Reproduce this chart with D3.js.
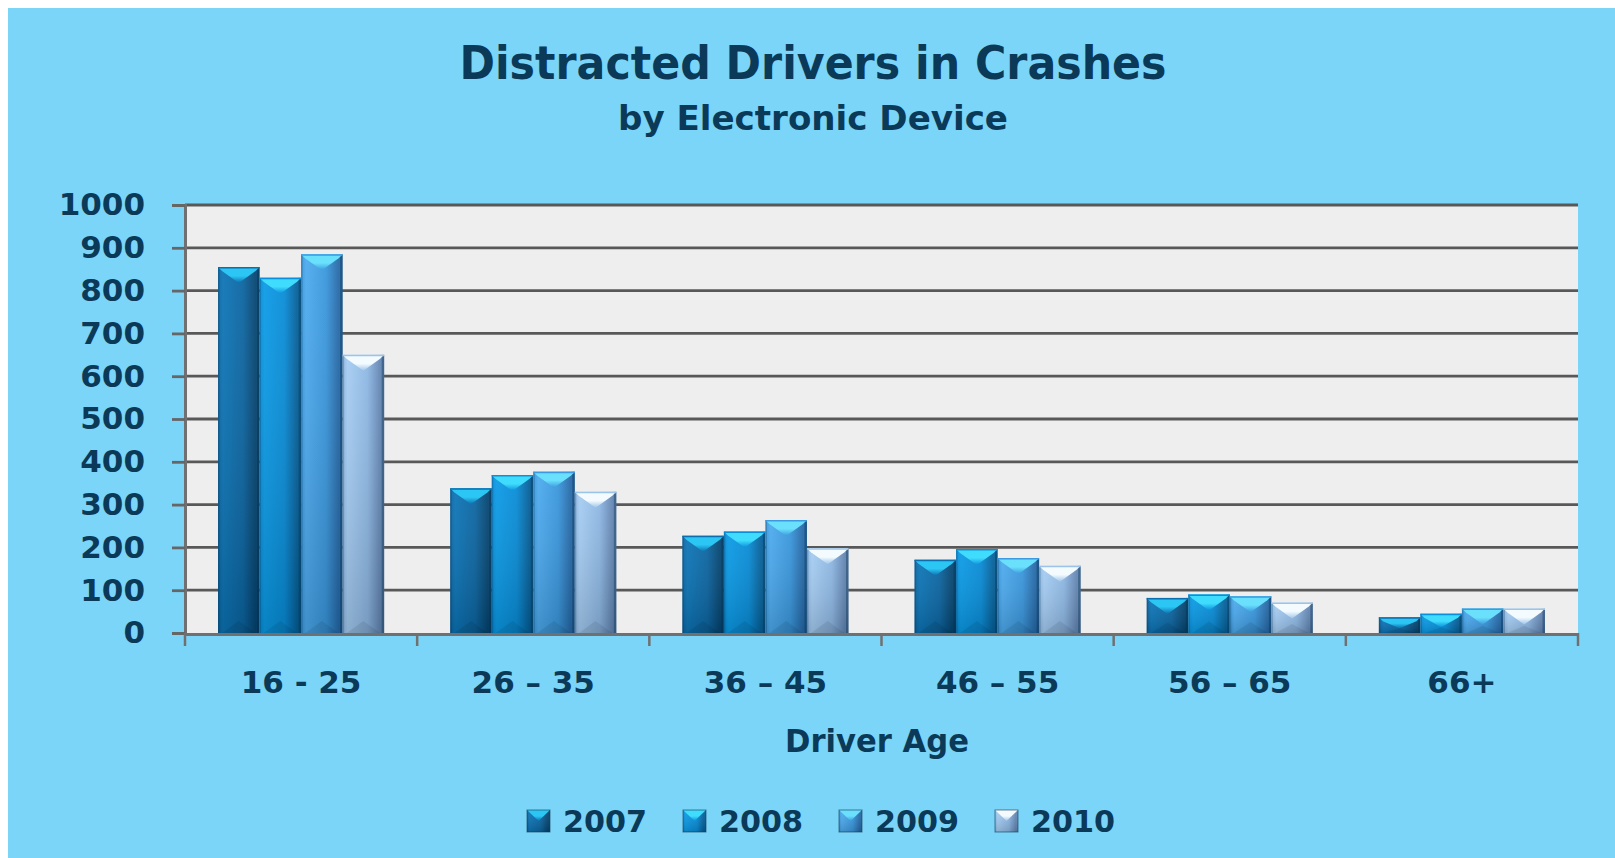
<!DOCTYPE html>
<html>
<head>
<meta charset="utf-8">
<script src="https://cdn.jsdelivr.net/npm/d3@7"></script>
<style>
  html, body { margin: 0; padding: 0; background: #ffffff; }
  svg { display: block; }
</style>
</head>
<body>
<script>
// ---------- data ----------
const categories = ["16 - 25", "26 \u2013 35", "36 \u2013 45", "46 \u2013 55", "56 \u2013 65", "66+"];
const years = ["2007", "2008", "2009", "2010"];
const v2007 = [855, 338, 227, 171, 82, 37];
const v2008 = [830, 369, 237, 196, 90, 45];
const v2009 = [885, 377, 264, 175, 86, 57];
const v2010 = [650, 330, 198, 157, 71, 57];
const yTicks = [0, 100, 200, 300, 400, 500, 600, 700, 800, 900, 1000];
const titleText = "Distracted Drivers in Crashes";
const subtitleText = "by Electronic Device";
const xAxisTitle = "Driver Age";

const seriesValues = { "2007": v2007, "2008": v2008, "2009": v2009, "2010": v2010 };

// ---------- styles ----------
const W = 1615, H = 858;
const textColor = "#0b3a58";
const font = "'DejaVu Sans', Verdana, sans-serif";
const styles = {
  "2007": { l: "#0b74b6", m: "#0a64a0", r: "#044470", cap: "#2cc6f4", capDark: "#0b6fae" },
  "2008": { l: "#0a9ae6", m: "#078bd6", r: "#045f98", cap: "#40dcfd", capDark: "#0890dc" },
  "2009": { l: "#4caaee", m: "#3896dc", r: "#2569a8", cap: "#6ae0fc", capDark: "#3c9ae0" },
  "2010": { l: "#a4ccf2", m: "#8cb6e2", r: "#6386b3", cap: "#f4fbff", capDark: "#9cc4ea" }
};

const svg = d3.select("body").append("svg").attr("width", W).attr("height", H);
const defs = svg.append("defs");

years.forEach(yr => {
  const s = styles[yr];
  const g = defs.append("linearGradient").attr("id", "g" + yr)
    .attr("x1", "0").attr("x2", "1").attr("y1", "0").attr("y2", "0");
  g.append("stop").attr("offset", "0").attr("stop-color", s.m);
  g.append("stop").attr("offset", "0.12").attr("stop-color", s.l);
  g.append("stop").attr("offset", "0.6").attr("stop-color", s.m);
  g.append("stop").attr("offset", "0.9").attr("stop-color", s.r);
  g.append("stop").attr("offset", "1").attr("stop-color", s.r);
  const v = defs.append("linearGradient").attr("id", "v" + yr)
    .attr("x1", "0").attr("x2", "0").attr("y1", "0").attr("y2", "1");
  v.append("stop").attr("offset", "0").attr("stop-color", "#ffffff").attr("stop-opacity", 0.06);
  v.append("stop").attr("offset", "1").attr("stop-color", "#000000").attr("stop-opacity", 0.15);
  const c = defs.append("linearGradient").attr("id", "c" + yr)
    .attr("x1", "0").attr("x2", "0").attr("y1", "0").attr("y2", "1");
  c.append("stop").attr("offset", "0").attr("stop-color", s.cap);
  c.append("stop").attr("offset", "0.55").attr("stop-color", s.cap);
  c.append("stop").attr("offset", "1").attr("stop-color", s.capDark);
});

// background: white frame top/left, sky blue chart area
svg.append("rect").attr("width", W).attr("height", H).attr("fill", "#ffffff");
svg.append("rect").attr("x", 8).attr("y", 8).attr("width", W - 8).attr("height", H - 8).attr("fill", "#7bd5f9");

// ---------- scales ----------
const plotL = 185, plotR = 1578, plotT = 205, plotB = 633;
const y = d3.scaleLinear().domain([0, 1000]).range([plotB, plotT]);
const x0 = d3.scaleBand().domain(categories).range([plotL, plotR]).padding(0);
const x1 = d3.scaleBand().domain(years).range([0, x0.bandwidth()]).paddingInner(0).paddingOuter(0.795);

// plot area
svg.append("rect").attr("x", plotL).attr("y", plotT).attr("width", plotR - plotL).attr("height", plotB - plotT)
  .attr("fill", "#eeeeee");

// gridlines
svg.append("g").selectAll("line").data(yTicks.filter(t => t > 0)).join("line")
  .attr("x1", plotL).attr("x2", plotR)
  .attr("y1", d => y(d)).attr("y2", d => y(d))
  .attr("stroke", "#585858").attr("stroke-width", 2.8);

// y axis
const yAxis = d3.axisLeft(y).tickValues(yTicks).tickSize(13).tickPadding(27).tickFormat(d3.format("d"));
const yg = svg.append("g").attr("transform", `translate(${plotL},0)`).call(yAxis);
yg.select(".domain").attr("stroke", "#707070").attr("stroke-width", 3);
yg.selectAll(".tick line").attr("stroke", "#666666").attr("stroke-width", 2.8);
yg.selectAll(".tick text").attr("fill", textColor).attr("font-family", font)
  .attr("font-weight", "bold").attr("font-size", 31);

// bars
const groups = svg.append("g").selectAll("g").data(categories).join("g")
  .attr("transform", d => `translate(${x0(d)},0)`);

groups.each(function(cat, ci) {
  const g = d3.select(this);
  years.forEach(yr => {
    const val = seriesValues[yr][ci];
    const bx = x1(yr), bw = x1.bandwidth();
    const by = y(val), bh = y(0) - y(val);
    g.append("rect").attr("x", bx).attr("y", by).attr("width", bw).attr("height", bh)
      .attr("fill", `url(#g${yr})`);
    g.append("rect").attr("x", bx).attr("y", by).attr("width", bw).attr("height", bh)
      .attr("fill", `url(#v${yr})`);
    // edge shadows
    g.append("rect").attr("x", bx + bw - 2.5).attr("y", by).attr("width", 2.5).attr("height", bh)
      .attr("fill", "#02304f").attr("opacity", 0.4);
    g.append("rect").attr("x", bx).attr("y", by).attr("width", 1.5).attr("height", bh)
      .attr("fill", "#02304f").attr("opacity", 0.25);
    // top bevel cap
    const capH = Math.min(16, bh * 0.7);
    g.append("polygon")
      .attr("points", [[bx, by], [bx + bw, by], [bx + bw - 4, by + 4], [bx + bw / 2, by + capH], [bx + 4, by + 4]].map(p => p.join(",")).join(" "))
      .attr("fill", `url(#c${yr})`);
    g.append("line").attr("x1", bx).attr("x2", bx + bw).attr("y1", by + 0.75).attr("y2", by + 0.75)
      .attr("stroke", styles[yr].capDark).attr("stroke-width", 1.5);
    // bottom subtle bevel
    const botH = Math.min(12, bh * 0.3);
    g.append("polygon")
      .attr("points", [[bx + 4, y(0)], [bx + bw - 4, y(0)], [bx + bw / 2, y(0) - botH]].map(p => p.join(",")).join(" "))
      .attr("fill", "#000000").attr("opacity", 0.08);
  });
});

// x axis
const xAxis = d3.axisBottom(x0).tickSize(0).tickPadding(0).tickFormat("");
const xg = svg.append("g").attr("transform", `translate(0,${plotB + 1})`).call(xAxis);
xg.select(".domain").attr("stroke", "#707070").attr("stroke-width", 3);
xg.selectAll(".tick").remove();
const boundaries = categories.map(c => x0(c)).concat([plotR]);
svg.append("g").selectAll("line").data(boundaries).join("line")
  .attr("x1", d => d).attr("x2", d => d).attr("y1", plotB).attr("y2", plotB + 13)
  .attr("stroke", "#707070").attr("stroke-width", 2.5);

// category labels
svg.append("g").selectAll("text").data(categories).join("text")
  .attr("x", d => x0(d) + x0.bandwidth() / 2).attr("y", 693)
  .attr("text-anchor", "middle").attr("fill", textColor).attr("font-family", font)
  .attr("font-weight", "bold").attr("font-size", 31).text(d => d);

// titles
svg.append("text").attr("x", 813).attr("y", 79).attr("text-anchor", "middle")
  .attr("fill", textColor).attr("font-family", font).attr("font-weight", "bold")
  .attr("font-size", 47).attr("textLength", 707).attr("lengthAdjust", "spacingAndGlyphs")
  .text(titleText);
svg.append("text").attr("x", 813).attr("y", 130).attr("text-anchor", "middle")
  .attr("fill", textColor).attr("font-family", font).attr("font-weight", "bold")
  .attr("font-size", 33).attr("textLength", 390).attr("lengthAdjust", "spacingAndGlyphs")
  .text(subtitleText);
svg.append("text").attr("x", 877).attr("y", 752).attr("text-anchor", "middle")
  .attr("fill", textColor).attr("font-family", font).attr("font-weight", "bold")
  .attr("font-size", 32).attr("textLength", 184).attr("lengthAdjust", "spacingAndGlyphs")
  .text(xAxisTitle);

// legend
const legendX = d3.scalePoint().domain(years).range([527, 995]);
const lg = svg.append("g").selectAll("g").data(years).join("g")
  .attr("transform", d => `translate(${legendX(d)},810)`);
lg.append("rect").attr("width", 23).attr("height", 22).attr("fill", d => `url(#g${d})`);
lg.append("rect").attr("width", 23).attr("height", 22).attr("fill", d => `url(#v${d})`);
lg.append("polygon").attr("points", "0,0 23,0 11.5,11").attr("fill", d => `url(#c${d})`);
lg.append("rect").attr("width", 23).attr("height", 22).attr("fill", "none")
  .attr("stroke", "#123a55").attr("stroke-width", 1).attr("opacity", 0.6);
lg.append("text").attr("x", 36).attr("y", 22).attr("fill", textColor).attr("font-family", font)
  .attr("font-weight", "bold").attr("font-size", 31).attr("textLength", 84).attr("lengthAdjust", "spacingAndGlyphs")
  .text(d => d);
</script>
</body>
</html>
